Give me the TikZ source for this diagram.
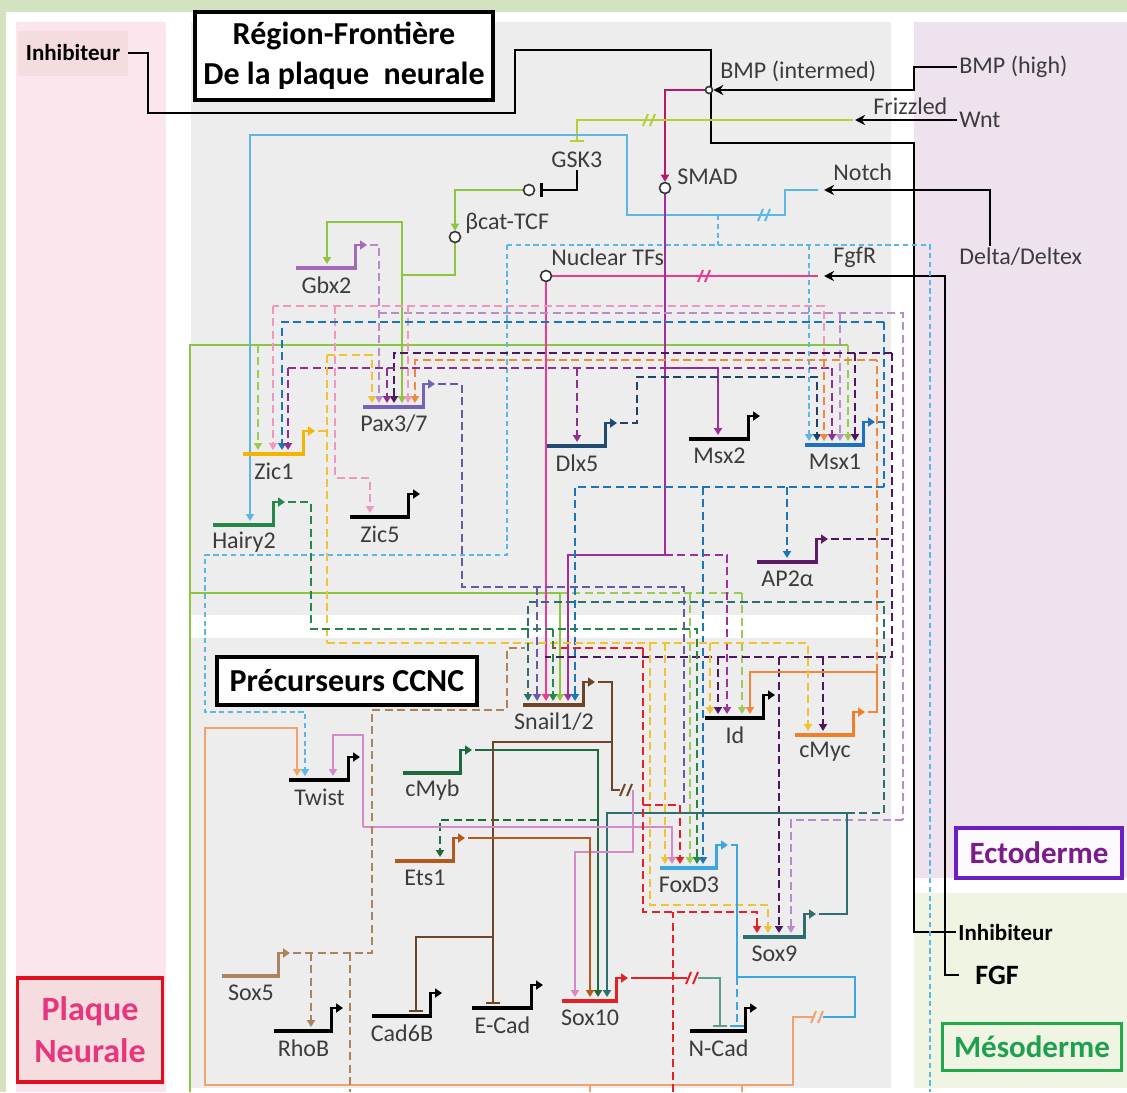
\documentclass[tikz,border=0pt]{standalone}
\usepackage{fontspec}
\setmainfont{Carlito}
\usetikzlibrary{arrows.meta}
\pgfdeclarelayer{bg}
\pgfsetlayers{bg,main}

\definecolor{bgG}{HTML}{D3E2BF}
\definecolor{pinkP}{HTML}{FCE6EE}
\definecolor{inhbg}{HTML}{F4DCDF}
\definecolor{grayR}{HTML}{EDEDED}
\definecolor{lavR}{HTML}{EEE2EF}
\definecolor{mesoR}{HTML}{EFF4E3}
\definecolor{cMag}{HTML}{B8186A}
\definecolor{cLime}{HTML}{B9CD35}
\definecolor{cGreen}{HTML}{8CC540}
\definecolor{cLGreen}{HTML}{9CCB55}
\definecolor{cLBlue}{HTML}{5CB6E6}
\definecolor{cPink}{HTML}{E93A95}
\definecolor{cPurS}{HTML}{9E2F9B}
\definecolor{cLilac}{HTML}{B98BCB}
\definecolor{cPinkD}{HTML}{F197BF}
\definecolor{cBlueD}{HTML}{1C74B9}
\definecolor{cNavy}{HTML}{1F4468}
\definecolor{cDPur}{HTML}{4C1760}
\definecolor{cPurD}{HTML}{8E2F8E}
\definecolor{cOr}{HTML}{F0873A}
\definecolor{cYel}{HTML}{F1C232}
\definecolor{cSlate}{HTML}{6759A8}
\definecolor{cHairy}{HTML}{24884A}
\definecolor{cTeal}{HTML}{2E6E6E}
\definecolor{cMyb}{HTML}{1E6A3E}
\definecolor{cSnail}{HTML}{6E4527}
\definecolor{cOrchid}{HTML}{D48AC6}
\definecolor{cEts}{HTML}{B4581F}
\definecolor{cSalm}{HTML}{F0A36F}
\definecolor{cFox}{HTML}{3AA7E1}
\definecolor{cRed}{HTML}{E52128}
\definecolor{cGT}{HTML}{5F9B8F}
\definecolor{cTan}{HTML}{A9845C}
\definecolor{cGbx}{HTML}{A46AB8}
\definecolor{cPax}{HTML}{7563BA}
\definecolor{cZic}{HTML}{F4B400}
\definecolor{cDlx}{HTML}{1F4B72}
\definecolor{cMsx1}{HTML}{1F70C1}
\definecolor{cAP}{HTML}{5C1B68}
\definecolor{cMycC}{HTML}{F07F2A}
\definecolor{labelgray}{HTML}{3C3C3C}
\definecolor{redB}{HTML}{E01020}
\definecolor{pinkT}{HTML}{E8357E}
\definecolor{ectoB}{HTML}{6A1FC0}
\definecolor{ectoT}{HTML}{7B1B8C}
\definecolor{mesoB}{HTML}{22A84A}
\definecolor{mesoT}{HTML}{1FA050}

\newcommand\glf{\fontsize{12}{14}\selectfont}
\newcommand\ttlf{\bfseries\fontsize{16}{20}\selectfont}

% gene: name, x1, x2, y, barcolor, label, arrowcolor
\newcommand\gn[7]{%
  \draw[line width=2.4pt,#5] (#2,#4) -- (#3,#4);
  \draw[line width=1.4pt,#7,-{Triangle[length=3.5pt,width=4.5pt]}] (#3-1.5,#4) -- (#3-1.5,#4-23) -- (#3+10,#4-23);
  \node[glabel] (#1) at ({(#2+#3)/2},#4+17) {#6};
  \coordinate (#1-o) at (#3+13,#4-23);
  \coordinate (#1-i) at (#2,#4-4);}

\newcommand\twoslash[3]{\draw[#3,line width=1pt] (#1-7,#2+6) -- (#1-2,#2-6) (#1,#2+6) -- (#1+5,#2-6);}

\begin{document}
\begin{tikzpicture}[x=0.5pt,y=-0.5pt,
  glabel/.style={font=\glf,inner sep=0pt,text=labelgray},
  slab/.style={font=\glf,inner sep=1pt,text=labelgray,anchor=west},
  cn/.style={line width=1.1pt},
  blk/.style={line width=1.3pt,black},
  dsh/.style={dash pattern=on 4pt off 2.2pt},
  dlb/.style={dash pattern=on 2.6pt off 1.8pt},
  arw/.style={-{Triangle[length=3.5pt,width=4pt]}},
  sarw/.style={-{Stealth[length=5pt,width=5pt]}},
  ihb/.style={-{Bar[width=7pt,line width=1.2pt]}},
  sigc/.style={circle,draw=black!80,fill=white,line width=0.8pt,inner sep=0pt,minimum size=5.5pt},
  tbox/.style={draw,line width=2.2pt,fill=white,align=center,font=\ttlf,inner sep=2pt}
]
\useasboundingbox (0,0) rectangle (1127,1092);

\begin{pgfonlayer}{bg}
\fill[bgG] (0,0) rectangle (1127,1092);
\fill[white] (6,12) rectangle (1127,1092);
\fill[pinkP] (16,22) rectangle (166,1092);
\fill[grayR] (191,22) rectangle (891,615);
\fill[grayR] (191,638) rectangle (891,1088);
\fill[lavR] (914,22) rectangle (1127,878);
\fill[mesoR] (914,893) rectangle (1127,1088);
\end{pgfonlayer}

% ---------- genes ----------
\gn{Gbx2}{296}{357}{268}{cGbx}{Gbx2}{cGbx}
\gn{Pax}{363}{425}{407}{cPax}{Pax3/7}{cPax}
\gn{Zic1}{243}{305}{454}{cZic}{Zic1}{cZic}
\gn{Hairy}{213}{275}{525}{cHairy}{Hairy2}{cHairy}
\gn{Zic5}{350}{410}{517}{black}{Zic5}{black}
\gn{Dlx}{547}{607}{446}{cDlx}{Dlx5}{cDlx}
\gn{Msx2}{689}{750}{439}{black}{Msx2}{black}
\gn{Msx1}{805}{865}{445}{cMsx1}{Msx1}{cMsx1}
\gn{AP2}{757}{818}{562}{cAP}{AP2α}{cAP}
\gn{Snail}{523}{585}{705}{cSnail}{Snail1/2}{cSnail}
\gn{Id}{705}{765}{718}{black}{Id}{black}
\gn{cMyc}{795}{855}{735}{cMycC}{cMyc}{cMycC}
\gn{Twist}{289}{350}{780}{black}{Twist}{black}
\gn{cMyb}{403}{462}{773}{cMyb}{cMyb}{cMyb}
\gn{Ets1}{395}{455}{861}{cEts}{Ets1}{cEts}
\gn{FoxD3}{660}{718}{868}{cFox}{FoxD3}{cFox}
\gn{Sox9}{743}{806}{937}{cTeal}{Sox9}{cTeal}
\gn{Sox5}{222}{280}{976}{cTan}{Sox5}{cTan}
\gn{RhoB}{274}{333}{1031}{black}{RhoB}{black}
\gn{Cad6B}{372}{432}{1016}{black}{Cad6B}{black}
\gn{ECad}{472}{533}{1008}{black}{E-Cad}{black}
\gn{Sox10}{562}{618}{1001}{cRed}{Sox10}{cRed}
\gn{NCad}{690}{747}{1031}{black}{N-Cad}{black}

% ---------- signal labels and markers ----------
\node[slab] (bmpi) at (718,71) {BMP (intermed)};
\node[slab] (bmph) at (957,67) {BMP (high)};
\node[slab] (frz) at (871,106) {Frizzled};
\node[slab] (wnt) at (957,120) {Wnt};
\node[slab] (gsk) at (549,160) {GSK3};
\node[slab] (smadl) at (675,177) {SMAD};
\node[slab] (notch) at (831,172) {Notch};
\node[slab] (bcatl) at (463,223) {βcat-TCF};
\node[slab] (ntfl) at (549,257) {Nuclear TFs};
\node[slab] (fgfr) at (831,257) {FgfR};
\node[slab] (delta) at (957,257) {Delta/Deltex};

\node[sigc,minimum size=3.5pt] (bmpc) at (709,90) {};
\node[sigc] (smad) at (665,188) {};
\node[sigc] (gskc) at (529,190) {};
\node[sigc] (bcat) at (455,237) {};
\node[sigc] (ntf) at (546,276) {};

% ---------- boxes ----------
\node[tbox,minimum width=149pt,minimum height=44pt] (title) at (344,56) {Région-Frontière\\De la plaque\ \ neurale};
\node[tbox,minimum width=130pt,minimum height=24pt] (prec) at (347,681) {Précurseurs CCNC};
\node[draw=redB,line width=1.6pt,fill=inhbg,text=pinkT,align=center,font=\bfseries\fontsize{17}{21}\selectfont,minimum width=72.5pt,minimum height=52pt] (pn) at (90,1030) {Plaque\\Neurale};
\node[draw=ectoB,line width=1.8pt,fill=lavR!80!ectoB!8,text=ectoT,font=\bfseries\fontsize{15.5}{18}\selectfont,minimum width=83pt,minimum height=25pt] (ecto) at (1039,853) {Ectoderme};
\node[draw=mesoB,line width=1.8pt,text=mesoT,font=\bfseries\fontsize{15.5}{18}\selectfont,minimum width=89.5pt,minimum height=23.5pt] (meso) at (1032,1047) {Mésoderme};
\node[fill=inhbg,font=\bfseries\fontsize{11.5}{13}\selectfont,minimum width=55pt,minimum height=22.5pt] (inhA) at (73,53) {Inhibiteur};
\node[anchor=west,inner sep=1pt,font=\bfseries\fontsize{11.5}{13}\selectfont] (inhB) at (956,932) {Inhibiteur};
\node[anchor=west,inner xsep=8pt,inner ysep=1pt,font=\bfseries\fontsize{14}{16}\selectfont] (fgf) at (959,975) {FGF};

% ---------- connectors ----------
\begin{pgfonlayer}{bg}
% black signals
\draw[blk] (inhA.east) -| (148,113) -- (515,113) |- (711,50) |- (914,143) |- (inhB.west);
\draw[blk,sarw] (bmph.west) -| (914,90) -- (bmpc.east);
\draw[blk,sarw] (wnt.west) -- (855,120);
\draw[blk,sarw] (990,0 |- delta.north) |- (824,190);
\draw[blk,sarw] (fgf.west) -| (945,276) -- (824,276);

\draw[cn,cMag,arw] (bmpc.west) -| (smad.north);
\draw[cn,cLime,ihb] (853,120) -| (577,142);
\twoslash{650}{120}{cLime}
\draw[blk,ihb] (gsk.south) |- ([xshift=2.5pt]gskc.east);
\draw[cn,cGreen,arw] (gskc.west) -| (bcat.north);
\draw[cn,cGreen] (bcat.south) |- (402,275);
\draw[cn,cGreen,arw] (402,275) -- (402,222) -| (327,0 |- Gbx2-i);
\draw[cn,cGreen,arw] (402,275) -- (402,0 |- Pax-i);
\draw[cn,cGreen] (190,1092) -- (190,345) -- (848,345);
\draw[cn,cLGreen,dsh,arw] (848,345) -- (848,0 |- Msx1-i);
\draw[cn,cLGreen,dsh,arw] (258,345) -- (258,0 |- Zic1-i);
\draw[cn,cGreen,arw] (190,593) -| (560,0 |- Snail-i);
\draw[cn,cLGreen,dsh] (560,593) -- (742,593);
\draw[cn,cLGreen,dsh,arw] (742,593) -- (742,0 |- Id-i);
\draw[cn,cLGreen,dsh,arw] (690,593) -- (690,0 |- FoxD3-i);

% Notch (light blue)
\draw[cn,cLBlue,arw] (818,190) -- (785,190) -- (785,215) -- (627,215) -- (627,135) -| (250,0 |- Hairy-i);
\twoslash{765}{215}{cLBlue}
\draw[cn,cLBlue,dlb] (718,215) -- (718,245) (507,245) -- (930,245) -- (930,1092);
\draw[cn,cLBlue,dlb,arw] (507,245) -- (507,555) -| (205,712) -| (305,0 |- Twist-i);
\draw[cn,cLBlue,dlb,arw] (809,245) -- (809,0 |- Msx1-i);

% FgfR (pink)
\draw[cn,cPink] (818,276) -- (ntf.east);
\twoslash{705}{276}{cPink}
\draw[cn,cPink,arw] (ntf.south) -- (546,0 |- Snail-i);

% SMAD (purple)
\draw[cn,cPurS,arw] (smad.south) -- (665,555) -| (568,0 |- Snail-i);
\draw[cn,cPurS,arw] (665,368) -| (718,0 |- Msx2-i);
\draw[cn,cPurS,dsh,arw] (665,555) -| (727,0 |- Id-i);

% Gbx2 (lilac)
\draw[cn,cLilac,dsh,arw] (Gbx2-o) -| (379,0 |- Pax-i);
\draw[cn,cLilac,dsh] (379,313) -- (903,313) -- (903,820);
\draw[cn,cLilac,dsh,arw] (903,820) -| (791,0 |- Sox9-i);
\draw[cn,cLilac,dsh,arw] (840,313) -- (840,0 |- Msx1-i);

% pink dashed
\draw[cn,cPinkD,dsh] (824,356) -- (824,306) -- (273,306);
\draw[cn,cPinkD,dsh,arw] (273,306) -- (273,0 |- Zic1-i);
\draw[cn,cPinkD,dsh,arw] (335,306) -- (335,478) -| (370,0 |- Zic5-i);
\draw[cn,cPinkD,dsh,arw] (408,306) -- (408,0 |- Pax-i);

% Msx1 (blue dashed)
\draw[cn,cBlueD,dsh] (Msx1-o) -- (884,422) (884,322) -- (884,487);
\draw[cn,cBlueD,dsh,arw] (884,322) -| (282,0 |- Zic1-i);
\draw[cn,cBlueD,dsh,arw] (884,487) -| (575,0 |- Snail-i);
\draw[cn,cBlueD,dsh,arw] (787,487) -- (787,0 |- AP2-i);
\draw[cn,cBlueD,dsh,arw] (703,487) -- (703,0 |- FoxD3-i);

% Dlx5 (navy)
\draw[cn,cNavy,dsh,arw] (Dlx-o) -- (637,423) -- (637,377) -| (817,0 |- Msx1-i);

% AP2a (dark purple)
\draw[cn,cDPur,dsh] (AP2-o) -- (892,539) (892,353) -- (892,657) -- (545,657);
\draw[cn,cDPur,dsh,arw] (892,353) -| (394,0 |- Pax-i);
\draw[cn,cDPur,dsh,arw] (855,353) -- (855,0 |- Msx1-i);
\draw[cn,cDPur,dsh,arw] (718,657) -- (718,0 |- Id-i);
\draw[cn,cDPur,dsh,arw] (823,657) -- (823,0 |- cMyc-i);
\draw[cn,cDPur,dsh,arw] (779,657) -- (779,0 |- Sox9-i);

% purple dashed
\draw[cn,cPurD,dsh] (288,368) -- (832,368);
\draw[cn,cPurD,dsh,arw] (288,368) -- (288,0 |- Zic1-i);
\draw[cn,cPurD,dsh,arw] (387,368) -- (387,0 |- Pax-i);
\draw[cn,cPurD,dsh,arw] (577,368) -- (577,0 |- Dlx-i);
\draw[cn,cPurD,dsh,arw] (832,368) -- (832,0 |- Msx1-i);

% cMyc (orange)
\draw[cn,cOr] (cMyc-o) -- (877,712) -- (877,672);
\draw[cn,cOr,arw] (877,672) -| (750,0 |- Id-i);
\draw[cn,cOr,dsh] (877,672) -- (877,360);
\draw[cn,cOr,dsh,arw] (877,360) -| (415,0 |- Pax-i);
\draw[cn,cOr,dsh,arw] (824,360) -- (824,0 |- Msx1-i);

% Zic1 (yellow)
\draw[cn,cYel,dsh] (Zic1-o) -- (327,431) (327,355) -- (327,643);
\draw[cn,cYel,dsh,arw] (327,355) -| (372,0 |- Pax-i);
\draw[cn,cYel,dsh,arw] (327,643) -| (808,0 |- cMyc-i);
\draw[cn,cYel,dsh,arw] (650,643) -- (650,905) -| (768,0 |- Sox9-i);
\draw[cn,cYel,dsh,arw] (665,643) -- (665,0 |- FoxD3-i);
\draw[cn,cYel,dsh,arw] (710,643) -- (710,0 |- Id-i);

% Pax3/7 (slate)
\draw[cn,cSlate,dsh] (Pax-o) -| (462,587) -- (684,587) -- (684,805);
\draw[cn,cSlate,dsh,arw] (537,587) -- (537,0 |- Snail-i);

% Hairy2 (green dashed)
\draw[cn,cHairy,dsh,arw] (Hairy-o) -| (311,629) -| (697,0 |- FoxD3-i);
\draw[cn,cHairy,dsh,arw] (553,629) -- (553,0 |- Snail-i);

% Sox9 (teal)
\draw[cn,cTeal] (Sox9-o) -| (847,813);
\draw[cn,cTeal,arw] (847,813) -| (607,0 |- Sox10-i);
\draw[cn,cTeal,dsh,arw] (847,813) -| (884,602) -| (528,0 |- Snail-i);

% cMyb
\draw[cn,cMyb,arw] (cMyb-o) -| (598,0 |- Sox10-i);
\draw[cn,cMyb,dsh,arw] (598,820) -| (440,0 |- Ets1-i);

% Snail (brown)
\draw[cn,cSnail] (Snail-o) -| (612,790) -- (620,790);
\twoslash{627}{790}{cSnail}
\draw[cn,cOrchid,arw] (633,790) -- (633,852) -| (575,0 |- Sox10-i);
\draw[cn,cSnail,ihb] (612,742) -| (493,0 |- ECad-i);
\draw[cn,cSnail,ihb] (493,937) -| (416,0 |- Cad6B-i);

% Ets1
\draw[cn,cEts,arw] (Ets1-o) -| (590,0 |- Sox10-i);

% orchid (Twist)
\draw[cn,cOrchid,arw] (363,827) -- (363,735) -| (333,0 |- Twist-i);
\draw[cn,cOrchid,arw] (363,827) -| (672,0 |- FoxD3-i);

% salmon loop and FoxD3
\draw[cn,cSalm,arw] (814,1017) -- (793,1017) -- (793,1085) -- (205,1085) -- (205,728) -| (297,0 |- Twist-i);
\draw[cn,cSalm] (590,1085) -- (590,1092) (742,1085) -- (742,1092);
\twoslash{818}{1017}{cSalm}
\draw[cn,cFox] (FoxD3-o) -- (737,845) -- (737,977) -- (855,977) -- (855,1017) -- (823,1017);
\draw[cn,cFox,dsh,ihb] (737,977) -- (737,0 |- NCad-i);

% Sox10 (red)
\draw[cn,cRed] (Sox10-o) -- (687,978);
\twoslash{693}{978}{cRed}
\draw[cn,cGT,ihb] (698,978) -| (720,0 |- NCad-i);
\draw[cn,cRed,dsh] (673,1092) -- (673,912) (643,648) -- (553,648);
\draw[cn,cRed,dsh,arw] (643,648) -- (643,912) -| (757,0 |- Sox9-i);
\draw[cn,cRed,dsh,arw] (643,805) -| (680,0 |- FoxD3-i);

% Sox5 (tan)
\draw[cn,cTan,dsh] (Sox5-o) -- (372,953) -- (372,710) -- (507,710) -- (507,648) -- (525,648);
\draw[cn,cTan,dsh,arw] (311,953) -- (311,0 |- RhoB-i);
\draw[cn,cTan,dsh] (350,953) -- (350,1092);
\end{pgfonlayer}
\end{tikzpicture}
\end{document}
